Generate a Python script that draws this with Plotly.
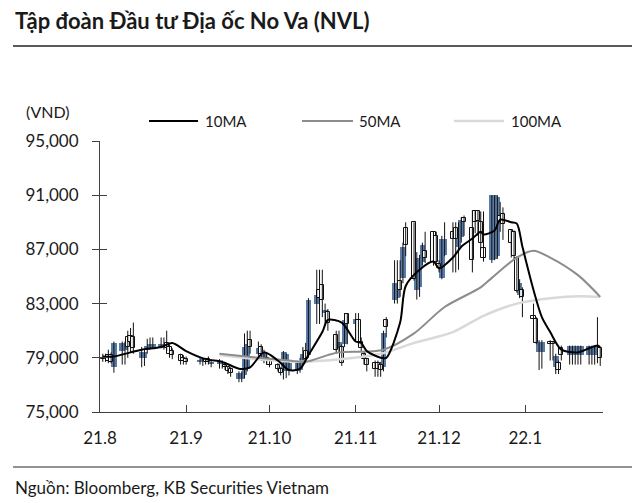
import numpy as np
import pandas as pd
import plotly.graph_objects as go

# ---------------- data ----------------
holidays = ["2021-09-02", "2021-09-03", "2022-01-03"]
trade_dates = [d.strftime("%Y-%m-%d") for d in pd.bdate_range("2021-08-02", "2022-01-28")
               if d.strftime("%Y-%m-%d") not in holidays]

# prices in thousand VND
open_k = [79.0, 78.9, 79.2, 79.2, 78.3, 79.5, 79.6, 80.5, 80.6, 80.5, 79.0, 79.0, 79.6, 79.7, 79.7, 79.7, 79.7, 80.1, 79.8, 79.5, 79.2, 79.0,
          78.9, 78.7, 78.8, 78.9, 78.9, 78.6, 78.6, 78.6, 78.5, 78.3, 78.2, 77.4, 77.4, 77.7, 78.2, 80.3, 79.3, 79.8, 78.8, 79.0,
          78.8, 78.5, 78.2, 78.0, 78.0, 78.0, 78.0, 78.1, 78.6, 79.5, 79.2, 83.0, 84.0, 84.4, 82.3, 82.4, 80.7, 79.7, 79.8, 80.0, 82.2,
          81.5, 81.8, 80.2, 79.3, 78.9, 78.6, 78.6, 78.5, 78.3, 81.8, 83.3, 83.4, 84.7, 84.9, 88.6, 89.0, 84.0, 84.2, 86.1, 86.9, 88.3, 88.0,
          85.9, 84.9, 86.6, 88.3, 88.6, 87.2, 87.9, 89.3, 88.6, 89.8, 89.8, 89.0, 87.1, 86.2, 86.3, 86.5, 89.5, 89.6, 88.4, 88.3, 86.4, 83.6, 84.0,
          82.1, 81.9, 79.4, 79.4, 80.2, 80.2, 78.3, 78.6, 79.7, 79.2, 79.2, 79.2, 79.2, 79.2, 79.2, 79.2, 79.2, 79.2, 79.7]
high_k = [79.3, 79.3, 79.6, 79.4, 80.2, 80.2, 80.2, 81.0, 81.2, 81.6, 79.8, 79.6, 80.4, 80.5, 80.5, 80.5, 80.5, 81.0, 80.0, 79.7, 79.3, 79.2,
          79.1, 79.0, 79.0, 79.0, 79.1, 78.9, 78.9, 78.8, 78.7, 78.4, 78.3, 78.0, 78.0, 80.8, 81.0, 81.0, 80.2, 80.0, 79.6, 79.3,
          79.0, 78.6, 78.3, 79.5, 79.4, 78.8, 78.8, 79.0, 79.8, 80.1, 83.4, 85.5, 85.5, 85.5, 83.0, 82.6, 81.0, 81.0, 80.0, 82.3, 82.3,
          82.3, 82.3, 80.5, 79.5, 79.0, 78.8, 78.8, 78.7, 81.0, 82.0, 86.2, 86.2, 86.2, 87.5, 89.0, 89.0, 86.8, 86.6, 87.5, 88.3, 88.3, 88.3,
          86.2, 88.0, 89.0, 89.0, 89.0, 89.0, 89.4, 89.5, 89.9, 89.9, 89.9, 89.8, 89.8, 91.0, 91.0, 91.0, 90.5, 90.1, 88.5, 88.4, 86.5, 84.8, 84.2,
          83.0, 82.0, 80.3, 80.3, 80.3, 80.2, 79.3, 78.8, 79.9, 79.9, 79.9, 79.9, 79.9, 79.9, 79.9, 79.9, 79.9, 82.0, 79.8]
low_k = [78.7, 78.7, 78.6, 78.6, 77.9, 78.5, 78.5, 79.0, 79.4, 79.3, 78.3, 78.4, 79.3, 79.6, 79.7, 79.7, 79.6, 79.5, 79.0, 78.9, 78.5, 78.5,
         78.5, 78.5, 78.4, 78.5, 78.5, 78.3, 78.2, 78.2, 78.1, 77.8, 77.6, 77.2, 77.2, 77.5, 78.0, 79.3, 79.0, 79.0, 78.6, 78.5,
         78.3, 78.0, 77.7, 77.4, 77.5, 77.7, 77.8, 77.9, 78.4, 78.6, 79.0, 81.5, 81.5, 82.0, 81.5, 81.0, 79.3, 79.4, 78.4, 79.8, 80.0,
         80.3, 80.0, 79.5, 78.5, 78.0, 77.6, 77.6, 77.6, 78.0, 80.5, 83.0, 83.0, 83.5, 84.5, 86.5, 84.7, 83.3, 83.5, 85.8, 86.0, 85.8, 85.8,
         85.3, 84.8, 86.5, 85.3, 85.3, 85.5, 87.5, 88.0, 85.3, 88.2, 88.0, 87.0, 86.1, 86.0, 86.2, 86.3, 88.3, 87.7, 86.4, 86.3, 83.8, 83.4, 82.0,
         81.6, 80.0, 78.1, 78.2, 78.8, 78.8, 77.8, 77.8, 78.8, 78.5, 78.5, 78.5, 78.5, 78.5, 78.5, 78.5, 78.5, 78.6, 78.4]
close_k = [78.9, 79.1, 78.8, 78.7, 80.1, 80.1, 80.1, 79.8, 80.2, 79.7, 79.4, 79.4, 79.9, 80.0, 80.0, 80.0, 80.0, 79.7, 79.3, 79.2, 78.8, 78.8,
           78.7, 78.8, 78.9, 78.7, 78.7, 78.7, 78.7, 78.7, 78.3, 78.0, 77.9, 77.9, 77.9, 79.8, 80.0, 79.8, 79.7, 79.3, 79.4, 78.8,
           78.5, 78.2, 77.9, 79.4, 79.3, 78.6, 78.6, 78.7, 79.3, 78.9, 83.3, 83.6, 83.4, 83.3, 82.5, 81.6, 79.6, 80.2, 78.6, 81.8, 81.5,
           81.9, 80.2, 79.7, 78.9, 78.5, 78.2, 78.2, 78.1, 80.8, 81.3, 84.5, 84.5, 84.0, 87.2, 87.3, 84.8, 86.4, 86.4, 87.3, 86.4, 86.1, 86.1,
           85.6, 87.8, 87.8, 87.8, 87.8, 87.9, 89.2, 89.0, 86.2, 89.0, 89.1, 87.5, 86.4, 91.0, 91.0, 90.9, 89.0, 88.9, 87.5, 86.5, 83.9, 84.5, 83.5,
           81.9, 80.1, 80.2, 80.2, 80.0, 80.0, 79.1, 78.1, 79.2, 79.9, 79.9, 79.9, 79.9, 79.9, 79.9, 79.9, 79.9, 79.9, 79.0]

# moving averages (thousand VND)
ma10_dates = ["2021-08-02", "2021-08-06", "2021-08-12", "2021-08-16", "2021-08-23", "2021-08-27", "2021-09-01",
              "2021-09-08", "2021-09-14", "2021-09-20", "2021-09-24", "2021-09-29", "2021-10-04", "2021-10-08",
              "2021-10-12", "2021-10-15", "2021-10-20", "2021-10-22", "2021-10-27", "2021-11-01", "2021-11-03",
              "2021-11-05", "2021-11-10", "2021-11-12", "2021-11-17", "2021-11-19", "2021-11-24", "2021-11-29",
              "2021-12-01", "2021-12-06", "2021-12-09", "2021-12-13", "2021-12-16", "2021-12-17", "2021-12-21",
              "2021-12-23", "2021-12-27", "2021-12-29", "2021-12-31", "2022-01-04", "2022-01-07", "2022-01-10",
              "2022-01-14", "2022-01-20", "2022-01-24", "2022-01-27", "2022-01-28"]
ma10_k = [79.1, 79.1, 79.4, 79.6, 79.8, 80.1, 79.5,
          78.9, 78.7, 78.2, 78.3, 79.4, 78.8, 78.1,
          78.2, 79.2, 80.9, 81.8, 81.6, 80.2, 80.1,
          79.5, 79.0, 79.0, 81.6, 84.3, 85.5, 86.1,
          85.6, 86.4, 87.2, 87.8, 88.3, 88.1, 88.4,
          89.2, 89.0, 88.9, 87.2, 84.0, 82.0, 80.9,
          79.6, 79.4, 79.7, 79.9, 79.8]
ma50_dates = ["2021-09-13", "2021-09-27", "2021-10-08", "2021-10-14", "2021-10-22", "2021-10-26", "2021-11-11",
              "2021-11-22", "2021-12-03", "2021-12-16", "2021-12-20", "2021-12-29", "2022-01-04", "2022-01-10",
              "2022-01-20", "2022-01-28"]
ma50_k = [79.3, 79.0, 78.8, 78.7, 79.2, 79.4, 79.6, 80.8, 82.75, 84.2, 84.9, 86.4, 86.9, 86.4, 85.1, 83.5]
ma100_dates = ["2021-09-13", "2021-10-12", "2021-11-10", "2021-11-22", "2021-12-06", "2021-12-17", "2021-12-29",
               "2022-01-10", "2022-01-21", "2022-01-28"]
ma100_k = [79.2, 78.7, 79.3, 80.1, 80.9, 82.1, 83.0, 83.4, 83.55, 83.5]

month_ticks = ["2021-08-01", "2021-09-01", "2021-10-01", "2021-11-01", "2021-12-01", "2022-01-01"]
month_labels = ["21.8", "21.9", "21.10", "21.11", "21.12", "22.1"]
y_ticks = [75000, 79000, 83000, 87000, 91000, 95000]

# ---------------- build ----------------
o = np.array(open_k) * 1000
h = np.array(high_k) * 1000
l = np.array(low_k) * 1000
c = np.array(close_k) * 1000
d = np.array(trade_dates)
up = c >= o
base = np.minimum(o, c)
height = np.maximum(np.abs(c - o), 80)

BLUE = "#5b7ba7"
FONT = "Lato"
TXT = "#1a1a1a"
AX = "#404040"
DAY = 86400000

wx, wy = [], []
for di, li, hi in zip(d, l, h):
    wx += [di, di, None]
    wy += [li, hi, None]

fig = go.Figure()
fig.add_trace(go.Scatter(x=wx, y=wy, mode="lines", line=dict(color="#111111", width=1), hoverinfo="skip"))
fig.add_trace(go.Bar(x=d[up], y=height[up], base=base[up], width=2.0 * DAY,
                     marker=dict(color=BLUE, line=dict(width=0))))
fig.add_trace(go.Bar(x=d[~up], y=height[~up], base=base[~up], width=1.5 * DAY,
                     marker=dict(color="white", line=dict(color="#111111", width=1))))
fig.add_trace(go.Scatter(x=ma100_dates, y=np.array(ma100_k) * 1000, mode="lines",
                         line=dict(color="#d9d9d9", width=2.5, shape="spline", smoothing=0.8)))
fig.add_trace(go.Scatter(x=ma50_dates, y=np.array(ma50_k) * 1000, mode="lines",
                         line=dict(color="#8c8c8c", width=2, shape="spline", smoothing=0.8)))
fig.add_trace(go.Scatter(x=ma10_dates, y=np.array(ma10_k) * 1000, mode="lines",
                         line=dict(color="#000000", width=2, shape="spline", smoothing=0.8)))
fig.add_trace(go.Scatter(x=[trade_dates[0]], y=[None], yaxis="y2", mode="markers",
                         showlegend=False, hoverinfo="skip"))

# page body adds an 8px offset; work in screen pixels and convert
OFF = 8
W, H = 640, 503
L = 100 - OFF
T = 141 - OFF
R = W - (603 - OFF)
B = H - (412 - OFF)
pw, ph = W - L - R, H - T - B


def px(xs):
    return (xs - OFF - L) / pw


def py(ys):
    return (H - B - (ys - OFF)) / ph


fig.update_layout(
    width=W, height=H, margin=dict(l=L, r=R, t=T, b=B),
    paper_bgcolor="white", plot_bgcolor="white",
    barmode="overlay", bargap=0, showlegend=False,
    font=dict(family=FONT, size=16, color=TXT),
    xaxis=dict(type="date", range=["2021-08-01", "2022-01-29"], tickvals=month_ticks, ticktext=month_labels,
               ticks="inside", ticklen=7, tickcolor=AX, tickwidth=1, showline=True, linecolor=AX, linewidth=1,
               showgrid=False, zeroline=False, ticklabelstandoff=11,
               tickfont=dict(family=FONT, size=17, color=TXT)),
    yaxis=dict(range=[75000, 95000], tickvals=y_ticks, tickformat=",", ticks="outside", ticklen=7,
               tickcolor=AX, tickwidth=1, showline=True, linecolor=AX, linewidth=1, showgrid=False,
               zeroline=False, ticklabelstandoff=10, tickfont=dict(family=FONT, size=17, color=TXT)),
    yaxis2=dict(range=[75000, 95000], overlaying="y", side="left", tickvals=y_ticks, ticks="inside",
                ticklen=7, tickcolor=AX, tickwidth=1, showticklabels=False, showline=False,
                showgrid=False, zeroline=False),
)

shapes = [
    dict(type="line", xref="paper", yref="paper", x0=px(13), x1=px(648), y0=py(46), y1=py(46),
         line=dict(color="#5a5a5a", width=2)),
    dict(type="line", xref="paper", yref="paper", x0=px(13), x1=px(648), y0=py(467), y1=py(467),
         line=dict(color="#6e6e6e", width=1.5)),
    dict(type="line", xref="paper", yref="paper", x0=px(149), x1=px(198), y0=py(121), y1=py(121),
         line=dict(color="#000000", width=2)),
    dict(type="line", xref="paper", yref="paper", x0=px(302), x1=px(353), y0=py(121), y1=py(121),
         line=dict(color="#8c8c8c", width=2)),
    dict(type="line", xref="paper", yref="paper", x0=px(454), x1=px(504), y0=py(121), y1=py(121),
         line=dict(color="#d9d9d9", width=2.5)),
]
ann = [
    dict(text="<b>Tập đoàn Đầu tư Địa ốc No Va (NVL)</b>", x=px(13), y=py(20), xanchor="left", yanchor="middle",
         font=dict(family=FONT, size=22, color=TXT)),
    dict(text="Nguồn: Bloomberg, KB Securities Vietnam", x=px(13), y=py(487), xanchor="left", yanchor="middle",
         font=dict(family=FONT, size=17, color=TXT)),
    dict(text="(VND)", x=px(48), y=py(112), xanchor="center", yanchor="middle",
         font=dict(family=FONT, size=16, color=TXT)),
    dict(text="10MA", x=px(203), y=py(121), xanchor="left", yanchor="middle",
         font=dict(family=FONT, size=15, color=TXT)),
    dict(text="50MA", x=px(357), y=py(121), xanchor="left", yanchor="middle",
         font=dict(family=FONT, size=15, color=TXT)),
    dict(text="100MA", x=px(509), y=py(121), xanchor="left", yanchor="middle",
         font=dict(family=FONT, size=15, color=TXT)),
]
for a in ann:
    a.update(xref="paper", yref="paper", showarrow=False)
fig.update_layout(shapes=shapes, annotations=ann)

fig.write_html("out.html")
